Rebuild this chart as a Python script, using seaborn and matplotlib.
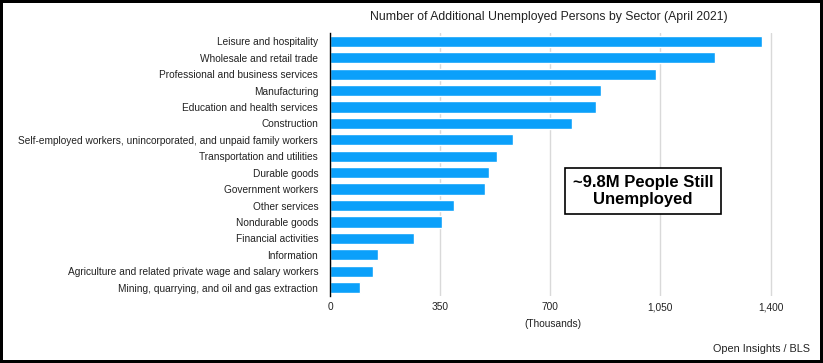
import pandas as pd
import seaborn as sns
import matplotlib.pyplot as plt
from matplotlib.ticker import FuncFormatter

sectors = [
    "Leisure and hospitality",
    "Wholesale and retail trade",
    "Professional and business services",
    "Manufacturing",
    "Education and health services",
    "Construction",
    "Self-employed workers, unincorporated, and unpaid family workers",
    "Transportation and utilities",
    "Durable goods",
    "Government workers",
    "Other services",
    "Nondurable goods",
    "Financial activities",
    "Information",
    "Agriculture and related private wage and salary workers",
    "Mining, quarrying, and oil and gas extraction",
]
unemployed = [1373, 1225, 1036, 861, 846, 770, 582, 530, 506, 492, 395, 356, 267, 153, 137, 95]
xticks = [0, 350, 700, 1050, 1400]

df = pd.DataFrame({"sector": sectors, "unemployed": unemployed})

sns.set_style("white")
plt.rcParams['font.family'] = ['Liberation Sans', 'DejaVu Sans']

fig = plt.figure(figsize=(8.23, 3.63), dpi=100)
fig.patch.set_facecolor("white")
fig.patch.set_edgecolor("black")
fig.patch.set_linewidth(4)

ax = fig.add_axes([0.401, 0.185, 0.541, 0.724])
sns.barplot(data=df, x="unemployed", y="sector", orient="h", color="#0BA0FA",
            saturation=1, width=0.68, ax=ax)

ax.set_xlim(0, 1415)
ax.set_xticks(xticks)
ax.xaxis.set_major_formatter(FuncFormatter(lambda v, p: f"{int(v):,}"))
ax.grid(axis="x", color="#d9d9d9", linewidth=1)
ax.set_axisbelow(True)
for s in ["top", "right", "bottom"]:
    ax.spines[s].set_visible(False)
ax.spines["left"].set_color("black")
ax.spines["left"].set_linewidth(1)
ax.tick_params(axis="both", length=0, labelsize=7.3, colors="#222222")
ax.tick_params(axis="y", pad=8.5)
ax.tick_params(axis="x", pad=4.5)
ax.set_ylabel("")
ax.set_xlabel("(Thousands)", fontsize=7.3, labelpad=5, color="#222222")

fig.text(0.667, 0.953, "Number of Additional Unemployed Persons by Sector (April 2021)",
         ha="center", va="center", fontsize=8.8, color="#222222")

fig.text(0.781, 0.474, "~9.8M People Still\nUnemployed", ha="center", va="center",
         fontsize=12, fontweight="bold", linespacing=1.15, color="black",
         bbox=dict(boxstyle="square,pad=0.45", facecolor="white", edgecolor="black", linewidth=1.2))

fig.text(0.984, 0.038, "Open Insights / BLS", ha="right", va="center",
         fontsize=7.8, color="#222222")

fig.savefig("out.png", dpi=100)
